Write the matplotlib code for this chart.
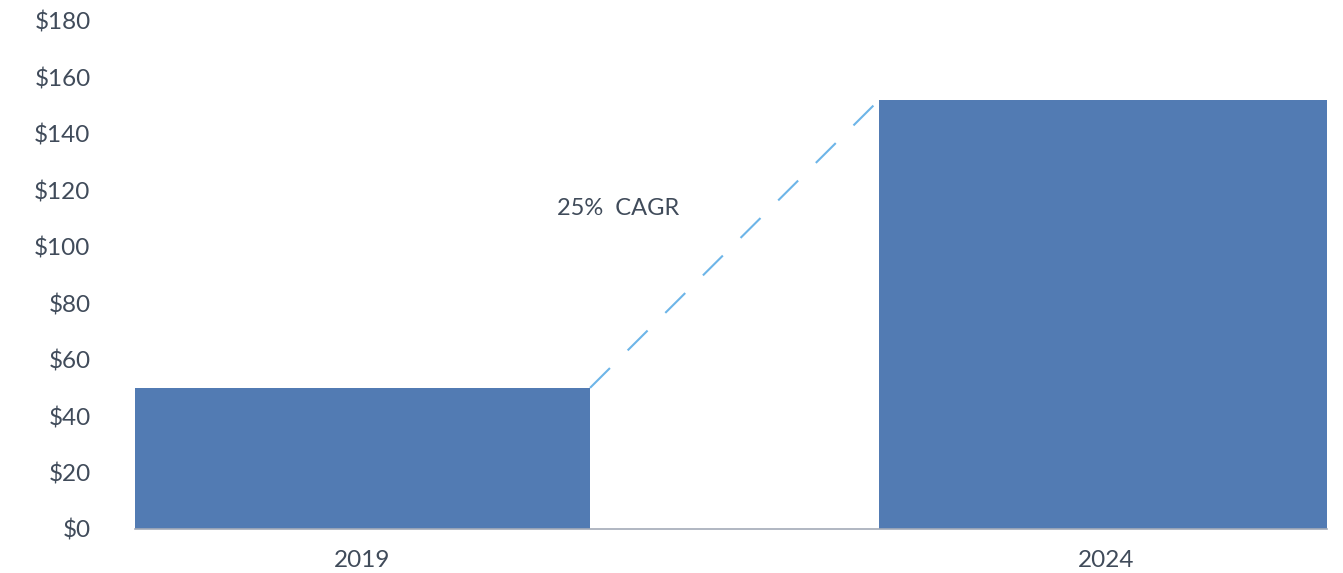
import matplotlib
matplotlib.use("Agg")
import matplotlib.pyplot as plt

categories = ["2019", "2024"]
values = [50, 152]
yticks = [0, 20, 40, 60, 80, 100, 120, 140, 160, 180]
ytick_labels = ["$" + str(v) for v in yticks]
cagr_label = "25%  CAGR"

plt.rcParams['font.family'] = ['Lato', 'DejaVu Sans']
text_color = "#404B5A"
bar_color = "#527BB3"

W, H = 1343, 573
fig = plt.figure(figsize=(W / 100, H / 100), dpi=100)
ax = fig.add_axes([135 / W, 1 - 529 / H, (1327 - 135) / W, (529 - 21) / H])

x = list(range(len(categories)))
width = 0.6116
ax.bar(x, values, width=width, color=bar_color, zorder=2)

# CAGR connector: top-right corner of first bar to top-left corner of second bar
ax.plot([x[0] + width / 2, x[1] - width / 2], [values[0], values[1]],
        color="#6DB5E8", lw=1.5, dashes=(13.5, 12), zorder=3)
ax.text(0.261, 113.5, cagr_label, ha="left", va="center", fontsize=17,
        color=text_color)

ax.set_xlim(-0.3058, 1.2964)
ax.set_ylim(0, 180)
ax.set_yticks(yticks)
ax.set_yticklabels(ytick_labels)
ax.set_xticks(x)
ax.set_xticklabels(categories)
ax.tick_params(axis="y", length=0, pad=32, labelsize=17.5, labelcolor=text_color)
ax.tick_params(axis="x", length=0, pad=15, labelsize=17.5, labelcolor=text_color)
for s in ["top", "right", "left"]:
    ax.spines[s].set_visible(False)
ax.spines["bottom"].set_color("#A3AAB8")
ax.spines["bottom"].set_linewidth(1.2)

fig.savefig("out.png", dpi=100)
